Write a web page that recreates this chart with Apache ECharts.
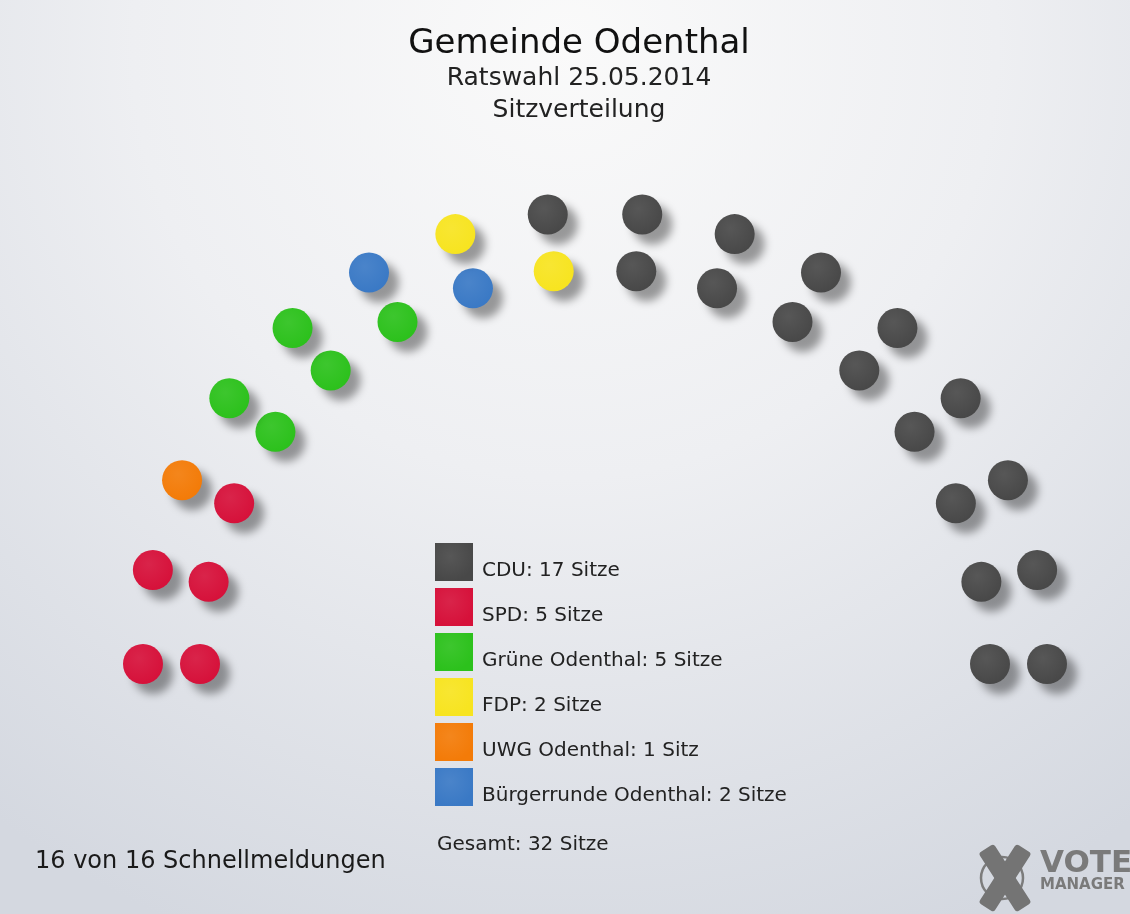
<!DOCTYPE html>
<html lang="de">
<head>
    <meta charset="UTF-8">
    <title>Gemeinde Odenthal - Sitzverteilung</title>
    <script src="https://cdn.jsdelivr.net/npm/echarts@6/dist/echarts.min.js"></script>
    <style>
        html, body { margin: 0; padding: 0; }
    </style>
</head>
<body>
<div id="main" style="width: 1130px;height:914px;"></div>
<script type="text/javascript">
    // Daten
    var parties = ["CDU", "SPD", "Grüne Odenthal", "FDP", "UWG Odenthal", "Bürgerrunde Odenthal"];
    var seats = [17, 5, 5, 2, 1, 2];
    // Reihenfolge der Sitze im Halbkreis, von links nach rechts
    var seatOrder = ["SPD", "UWG Odenthal", "Grüne Odenthal", "Bürgerrunde Odenthal", "FDP", "CDU"];
    var seatsPerRow = [16, 16];
    var reports = [16, 16];

    var colors = {
        "CDU": "#484848",
        "SPD": "#d6113a",
        "Grüne Odenthal": "#2cc11c",
        "FDP": "#f7e420",
        "UWG Odenthal": "#f37b08",
        "Bürgerrunde Odenthal": "#3a79c5"
    };
    var rowRadius = [395, 452];

    // Sitzplätze: Winkel je Reihe, sortiert nach Winkel (innen zuerst)
    var places = [];
    seatsPerRow.forEach(function (n, row) {
        for (var i = 0; i < n; i++) {
            places.push({row: row, angle: 180 - i * 180 / (n - 1)});
        }
    });
    places.sort(function (a, b) {
        if (Math.abs(b.angle - a.angle) > 1e-6) return b.angle - a.angle;
        return a.row - b.row;
    });

    var seatData = {};
    var k = 0;
    seatOrder.forEach(function (p) {
        seatData[p] = [];
        var n = seats[parties.indexOf(p)];
        for (var j = 0; j < n; j++) {
            var pl = places[k++];
            seatData[p].push([rowRadius[pl.row], pl.angle]);
        }
    });

    function lighten(hex, f) {
        var c = echarts.color.parse(hex);
        return "rgb(" + [0, 1, 2].map(function (i) {
            return Math.round(c[i] + (255 - c[i]) * f);
        }).join(",") + ")";
    }

    var total = seats.reduce(function (a, b) { return a + b; }, 0);

    var myChart = echarts.init(document.getElementById("main"));

    var option = {
        backgroundColor: {
            type: "radial", x: 0.5, y: 0.05, r: 1.05,
            colorStops: [
                {offset: 0, color: "#fafafa"},
                {offset: 0.45, color: "#eeeff2"},
                {offset: 1, color: "#d4d8e0"}
            ]
        },
        animation: false,
        title: {
            text: "Gemeinde Odenthal",
            subtext: "Ratswahl 25.05.2014\nSitzverteilung",
            left: 574,
            top: 22,
            textAlign: "center",
            itemGap: 1,
            textStyle: {fontFamily: "DejaVu Sans", fontSize: 34, fontWeight: "normal", color: "#111"},
            subtextStyle: {fontFamily: "DejaVu Sans", fontSize: 25, color: "#222", lineHeight: 32}
        },
        legend: {
            orient: "vertical",
            left: 430,
            top: 538,
            icon: "rect",
            itemWidth: 38,
            itemHeight: 38,
            itemGap: 7,
            selectedMode: false,
            data: parties,
            formatter: function (name) {
                var n = seats[parties.indexOf(name)];
                return "{t|" + name + ": " + n + (n === 1 ? " Sitz" : " Sitze") + "}";
            },
            itemStyle: {shadowBlur: 0, shadowOffsetX: 0, shadowOffsetY: 0, opacity: 1},
            textStyle: {
                fontFamily: "DejaVu Sans", fontSize: 20, color: "#222",
                rich: {t: {fontFamily: "DejaVu Sans", fontSize: 20, color: "#222", padding: [18, 0, 0, 4]}}
            }
        },
        polar: {
            center: [595, 664],
            radius: 452
        },
        angleAxis: {
            type: "value", min: 0, max: 360, startAngle: 0, clockwise: false,
            axisLine: {show: false}, axisTick: {show: false}, axisLabel: {show: false}, splitLine: {show: false}
        },
        radiusAxis: {
            type: "value", min: 0, max: 452,
            axisLine: {show: false}, axisTick: {show: false}, axisLabel: {show: false}, splitLine: {show: false}
        },
        series: seatOrder.map(function (p) {
            return {
                name: p,
                type: "scatter",
                coordinateSystem: "polar",
                symbol: "circle",
                symbolSize: 40,
                data: seatData[p],
                itemStyle: {
                    color: {
                        type: "radial", x: 0.4, y: 0.35, r: 0.65,
                        colorStops: [
                            {offset: 0, color: lighten(colors[p], 0.08)},
                            {offset: 1, color: colors[p]}
                        ]
                    },
                    opacity: 1,
                    shadowBlur: 9,
                    shadowOffsetX: 10,
                    shadowOffsetY: 10,
                    shadowColor: "rgba(0,0,0,0.38)"
                },
                emphasis: {disabled: true}
            };
        }),
        graphic: [
            {
                type: "text", left: 437, top: 835,
                style: {text: "Gesamt: " + total + " Sitze", font: "20px 'DejaVu Sans'", fill: "#222"}
            },
            {
                type: "text", left: 35, top: 850,
                style: {text: reports[0] + " von " + reports[1] + " Schnellmeldungen", font: "24px 'DejaVu Sans'", fill: "#1a1a1a"}
            },
            // Logo
            {
                type: "circle", shape: {cx: 1002, cy: 878, r: 21},
                style: {fill: "none", stroke: "#7c7c7c", lineWidth: 2.5}
            },
            {
                type: "rect", shape: {x: -9, y: -35, width: 18, height: 70, r: 3},
                x: 1005, y: 878, rotation: -Math.PI / 5.5,
                style: {fill: "#747474"}
            },
            {
                type: "rect", shape: {x: -9, y: -35, width: 18, height: 70, r: 3},
                x: 1005, y: 878, rotation: Math.PI / 5.5,
                style: {fill: "#747474"}
            },
            {
                type: "text", left: 1040, top: 848,
                style: {text: "VOTE", font: "bold 31px 'DejaVu Sans'", fill: "#7a7a7a"}
            },
            {
                type: "text", left: 1040, top: 878,
                style: {text: "MANAGER", font: "bold 15px 'DejaVu Sans'", fill: "#7a7a7a"}
            }
        ]
    };

    myChart.setOption(option);
</script>
</body>
</html>
